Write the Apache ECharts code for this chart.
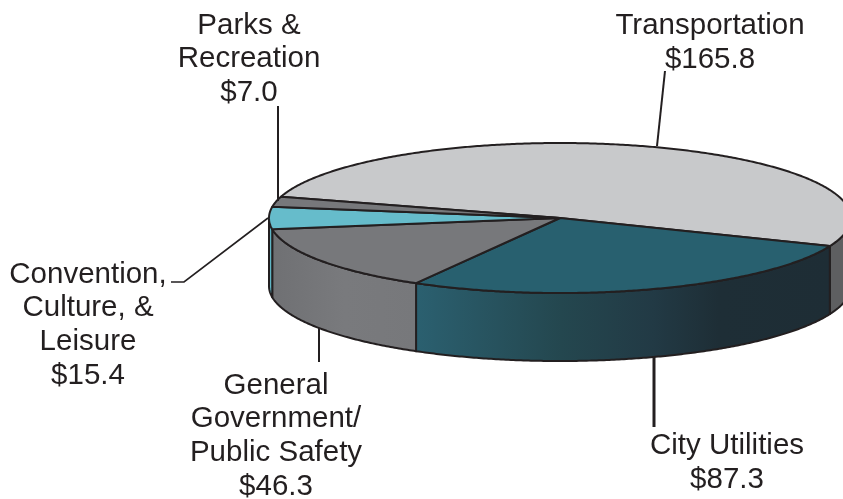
<!DOCTYPE html>
<html>
<head>
<meta charset="utf-8">
<style>html,body{margin:0;padding:0;background:#fff}#chart{width:843px;height:499px}</style>
<script src="https://cdn.jsdelivr.net/npm/echarts@6/dist/echarts.min.js"></script>
</head>
<body>
<div id="chart"></div>
<script>
// Budget slices, clockwise from the first one
const sliceNames = ['Transportation', 'City Utilities', 'General\nGovernment/\nPublic Safety', 'Convention,\nCulture, &\nLeisure', 'Parks &\nRecreation'];
const sliceValues = [165.8, 87.3, 46.3, 15.4, 7.0];

const topColors = ['#c8c9cb', '#28606f', '#77787b', '#66bccb', '#77787b'];
const wallStops = [
  [[0, '#5e5f61'], [1, '#5e5f61']],
  [[0, '#2b6070'], [0.35, '#24474f'], [0.57, '#223a45'], [0.73, '#1e2e36'], [1, '#1e2d35']],
  [[0, '#6f7073'], [0.5, '#797a7d'], [1, '#77787b']],
  [[0, '#5fb5c5'], [1, '#5fb5c5']],
  [[0, '#77787b'], [1, '#77787b']]
];

// Label anchors and the leader line that ties each one to its slice
const labelAnchors = [[710, 43], [727, 463], [276, 436], [88, 325], [249, 59]];
const leaderPaths = [
  [[665, 71], [657, 146]],
  [[654, 356], [654, 427]],
  [[319, 328], [319, 362]],
  [[171, 282], [184, 282], [268, 218]],
  [[278, 106], [278, 201]]
];
const leaderWidths = [2, 3, 2, 1.6, 2];

// Projected disc
const disc = { cx: 560, cy: 218, rx: 291, ry: 75, depth: 68, startAngle: 163.5 };
const ink = '#231f20';
const total = sliceValues.reduce((a, b) => a + b, 0);

function sliceSpan(index) {
  let before = 0;
  for (let i = 0; i < index; i++) before += sliceValues[i];
  const from = disc.startAngle - before / total * 360;
  return [from, from - sliceValues[index] / total * 360];
}
function rimPoint(deg, drop) {
  const r = deg * Math.PI / 180;
  return [disc.cx + disc.rx * Math.cos(r), disc.cy - disc.ry * Math.sin(r) + drop];
}
function arcPoints(from, to, drop) {
  const n = Math.max(2, Math.ceil(Math.abs(from - to) * 2));
  const pts = [];
  for (let i = 0; i <= n; i++) pts.push(rimPoint(from + (to - from) * i / n, drop));
  return pts;
}

function renderWall(params, api) {
  const i = api.value(1);
  const span = sliceSpan(i);
  // Only the near half of the rim (0 to -180 degrees) faces the viewer
  const from = Math.min(span[0], 0), to = Math.max(span[1], -180);
  if (from <= to) return { type: 'group', children: [] };
  const pts = arcPoints(from, to, 0).concat(arcPoints(to, from, disc.depth));
  return {
    type: 'polygon',
    shape: { points: pts },
    style: {
      fill: {
        type: 'linear', x: 0, y: 0, x2: 1, y2: 0, global: false,
        colorStops: wallStops[i].map(s => ({ offset: s[0], color: s[1] }))
      },
      stroke: ink, lineWidth: 2, lineJoin: 'round'
    }
  };
}

function renderFace(params, api) {
  const i = api.value(1);
  const span = sliceSpan(i);
  const pts = [[disc.cx, disc.cy]].concat(arcPoints(span[0], span[1], 0));
  return {
    type: 'polygon',
    shape: { points: pts },
    style: { fill: topColors[i], stroke: ink, lineWidth: 2, lineJoin: 'round' }
  };
}

function renderCallout(params, api) {
  const i = api.value(1);
  return {
    type: 'group',
    children: [
      {
        type: 'polyline',
        shape: { points: leaderPaths[i] },
        style: { fill: null, stroke: ink, lineWidth: leaderWidths[i] }
      },
      {
        type: 'text',
        x: labelAnchors[i][0],
        y: labelAnchors[i][1],
        style: {
          text: sliceNames[i] + '\n$' + api.value(0).toFixed(1),
          fontFamily: '"Liberation Sans", Arial, sans-serif',
          fontSize: 29.5,
          lineHeight: 33.6,
          fill: ink,
          align: 'center',
          verticalAlign: 'middle'
        }
      }
    ]
  };
}

const rows = sliceValues.map((v, i) => [v, i]);
const chart = echarts.init(document.getElementById('chart'), null, { renderer: 'canvas' });
chart.setOption({
  animation: false,
  backgroundColor: '#ffffff',
  series: [
    { type: 'custom', coordinateSystem: 'none', silent: true, z: 1, data: rows, renderItem: renderWall },
    { type: 'custom', coordinateSystem: 'none', silent: true, z: 2, data: rows, renderItem: renderFace },
    { type: 'custom', coordinateSystem: 'none', silent: true, z: 3, data: rows, renderItem: renderCallout }
  ]
});
</script>
</body>
</html>
